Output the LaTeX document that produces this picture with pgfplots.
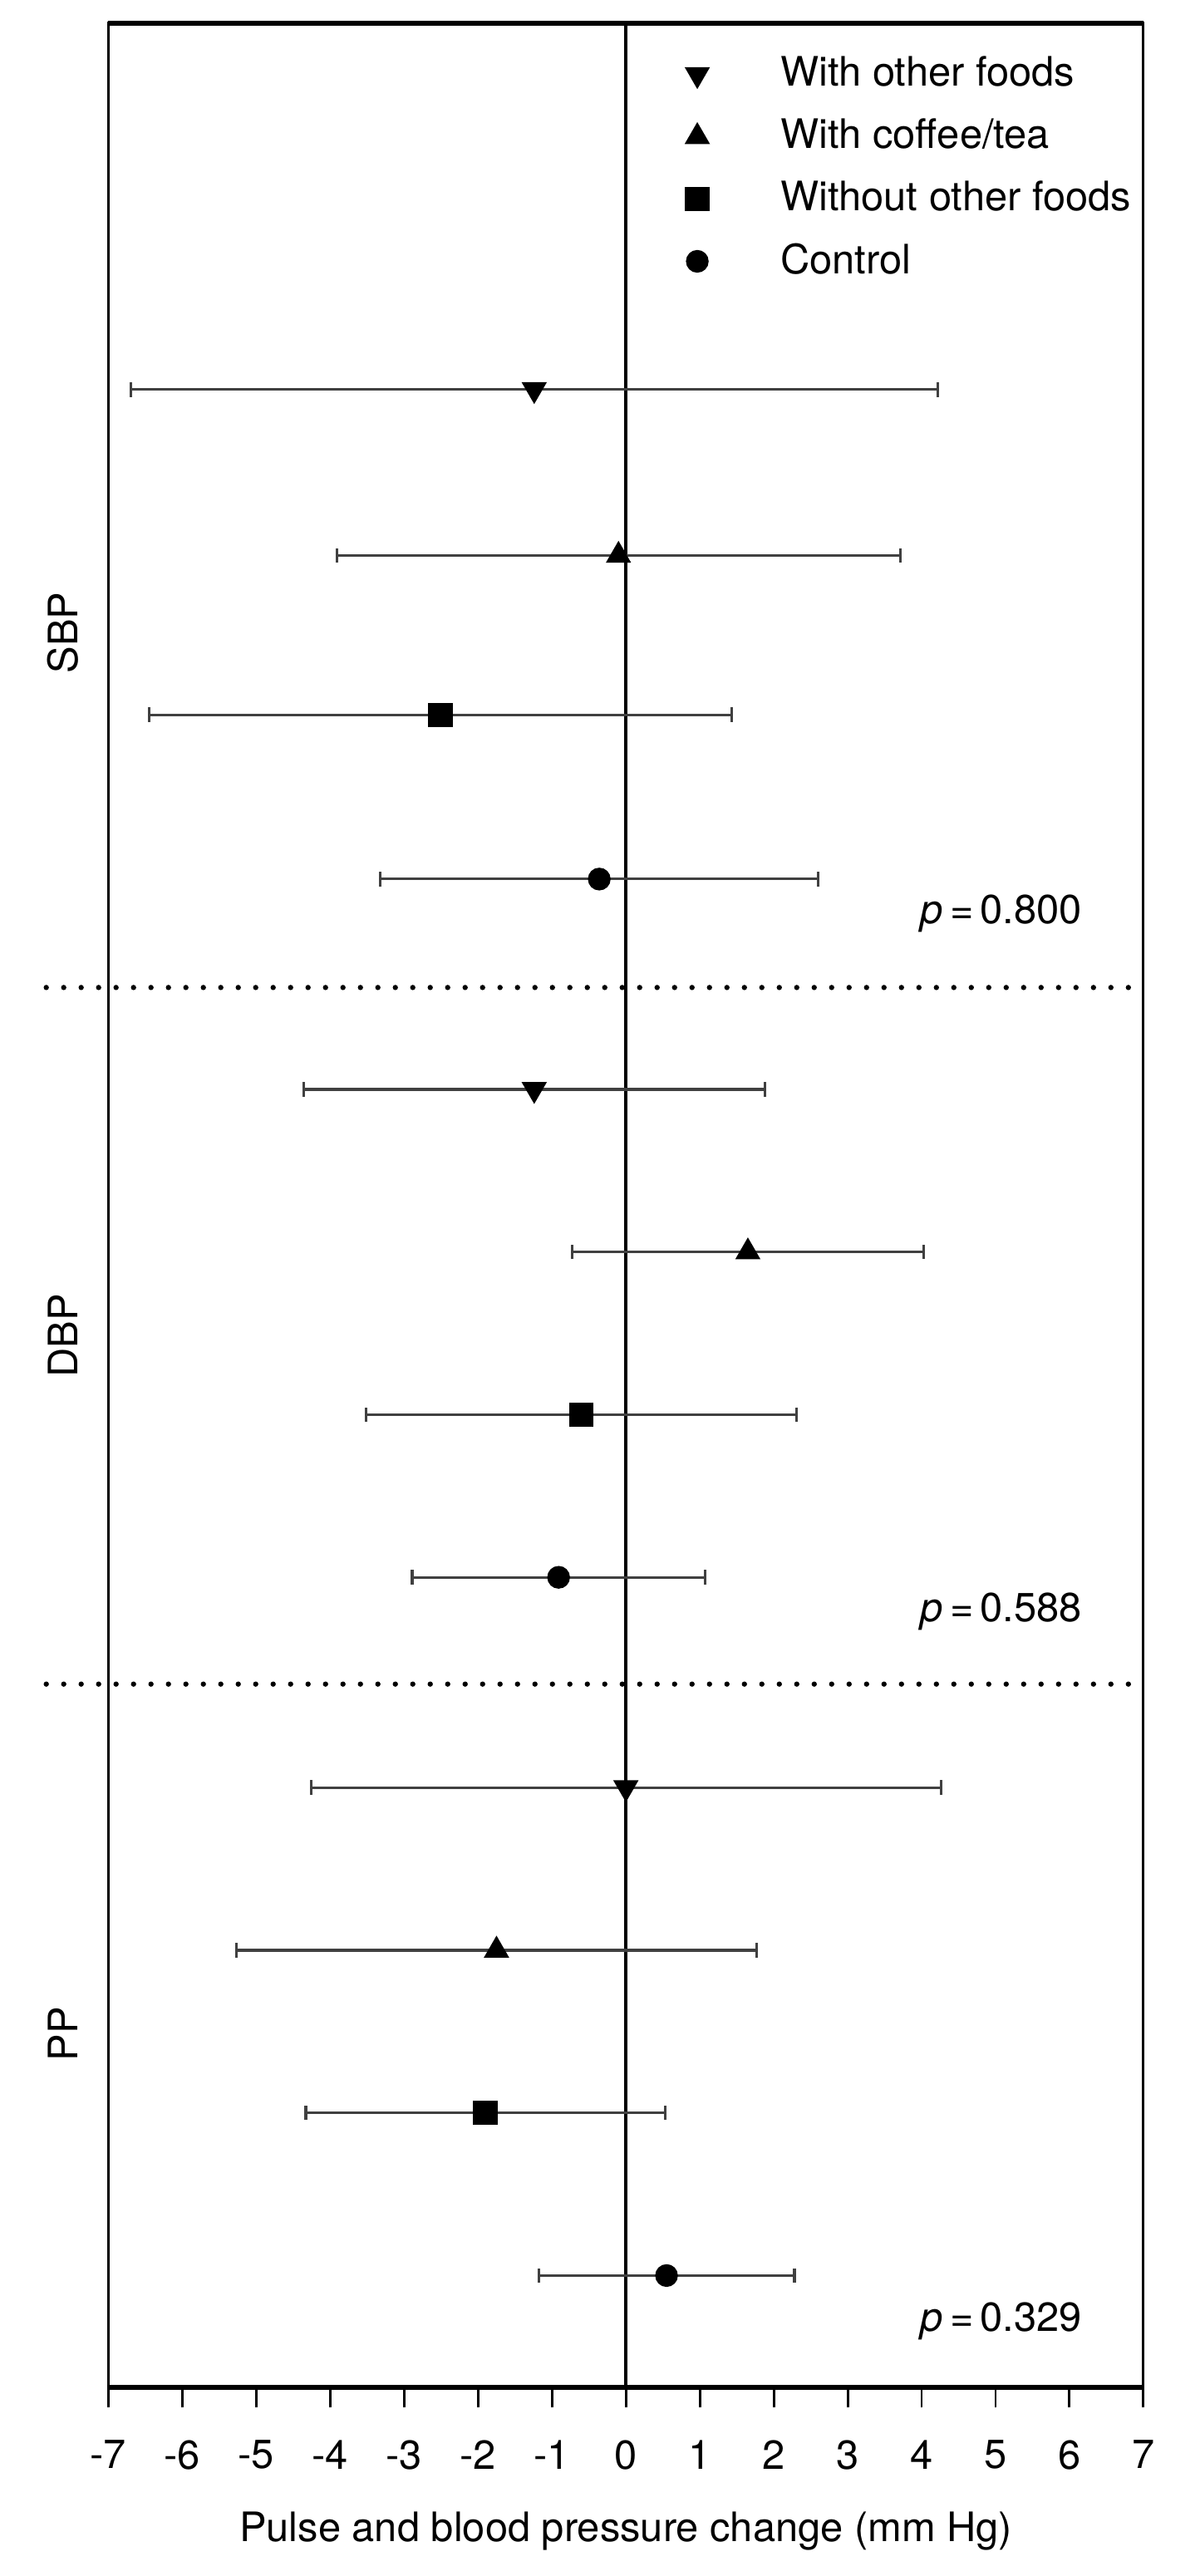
\documentclass[border=0pt]{standalone}
\usepackage{fontspec}
\setmainfont{TeX Gyre Heros}
\usepackage{pgfplots}
\pgfplotsset{compat=1.18}

% x = mean change, y = row position, e = half width of the interval
\pgfplotstableread{
x     y     e
-1.24 12.16 5.46
-1.24 7.90  3.12
0.00  3.65  4.26
}\otherfoods
\pgfplotstableread{
x     y     e
-0.10 11.15 3.81
1.65  6.91  2.38
-1.75 2.66  3.52
}\coffeetea
\pgfplotstableread{
x     y     e
-2.51 10.18 3.94
-0.60 5.92  2.91
-1.90 1.67  2.43
}\withoutfoods
\pgfplotstableread{
x     y     e
-0.36 9.18  2.96
-0.91 4.93  1.98
0.55  0.68  1.73
}\control

\begin{document}
\begin{tikzpicture}
\begin{axis}[
    scale only axis,
    width=255pt, height=582.5pt,
    xmin=-7, xmax=7,
    ymin=0, ymax=14.39,
    xtick={-7,-6,...,7},
    xticklabels={-7,-6,-5,-4,-3,-2,-1,0,1,2,3,4,5,6,7},
    xticklabel style={yshift=-4.5pt},
    xtick pos=bottom,
    tick align=outside,
    major tick length=5pt,
    ytick=\empty,
    xlabel={Pulse and blood pressure change (mm Hg)},
    xlabel style={at={(axis description cs:0.5,0)}, anchor=center, yshift=-35.5pt},
    axis line style={line width=0.6pt},
    every tick/.style={black, line width=0.6pt},
    clip=false,
    legend style={draw=none, fill=none, at={(axis cs:-0.225,14.29)}, anchor=north west,
                  row sep=2.5pt, font=\normalsize},
    legend cell align=left,
    legend image code/.code={\path[draw=none, fill=none] (0cm,0cm) rectangle (1.3cm,0cm);
        \draw[#1] plot coordinates {(0.65cm,0cm)};},
    error bars/x dir=both,
    error bars/x explicit,
    error bars/error bar style={black!75, line width=0.65pt},
    error bars/error mark options={black!75, line width=0.65pt, mark size=1.8pt, rotate=90},
]
% zero line and group dividers
\addplot[black, line width=0.8pt, forget plot] coordinates {(0,0) (0,14.39)};
\addplot[black, line width=1.3pt, line cap=round, dash pattern=on 0pt off 4.3pt, forget plot]
    coordinates {(-7.84,8.52) (6.87,8.52)};
\addplot[black, line width=1.3pt, line cap=round, dash pattern=on 0pt off 4.3pt, forget plot]
    coordinates {(-7.84,4.28) (6.87,4.28)};

\addplot[only marks, mark=triangle*, mark size=3.2pt, mark options={rotate=180, black}]
    table[x=x, y=y, x error=e] {\otherfoods};
\addplot[only marks, mark=triangle*, mark size=3.2pt, mark options={black}]
    table[x=x, y=y, x error=e] {\coffeetea};
\addplot[only marks, mark=square*, mark size=2.8pt, mark options={black}]
    table[x=x, y=y, x error=e] {\withoutfoods};
\addplot[only marks, mark=*, mark size=2.6pt, mark options={black}]
    table[x=x, y=y, x error=e] {\control};
\legend{With other foods, With coffee/tea, Without other foods, Control}

% thicker top and bottom frame
\draw[line width=1.1pt] (rel axis cs:0,1) -- (rel axis cs:1,1);
\draw[line width=1.1pt] (rel axis cs:0,0) -- (rel axis cs:1,0);

% group labels and p values
\node[rotate=90] at (axis cs:-7.62,10.68) {SBP};
\node[rotate=90] at (axis cs:-7.62,6.40) {DBP};
\node[rotate=90] at (axis cs:-7.62,2.15) {PP};
\node[anchor=east, inner sep=0pt] at (axis cs:6.18,8.97) {\textit{p}\,=\,0.800};
\node[anchor=east, inner sep=0pt] at (axis cs:6.18,4.72) {\textit{p}\,=\,0.588};
\node[anchor=east, inner sep=0pt] at (axis cs:6.18,0.40) {\textit{p}\,=\,0.329};

\coordinate (bl) at (rel axis cs:0,0);
\coordinate (tr) at (rel axis cs:1,1);
\end{axis}
\path ([xshift=-26.7pt,yshift=-46.5pt]bl) rectangle ([xshift=13.8pt,yshift=5.7pt]tr);
\end{tikzpicture}
\end{document}
